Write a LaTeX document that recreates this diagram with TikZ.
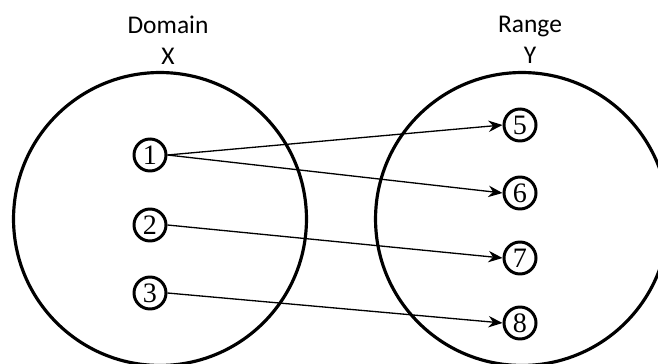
\documentclass[tikz,border=0pt]{standalone}
\usepackage{fontspec}
\newfontfamily\setfont{Carlito}
\newfontfamily\eltfont{Liberation Serif}
\usetikzlibrary{arrows.meta}

\begin{document}
\begin{tikzpicture}[x=0.02cm, y=-0.02cm,
    bigset/.style={draw, line width=1.8pt, circle, minimum size=5.86cm, inner sep=0pt},
    elt/.style={draw, line width=1.7pt, circle, minimum size=0.64cm, inner sep=0pt,
                font=\eltfont\fontsize{16}{16}\selectfont},
    title/.style={font=\setfont\fontsize{14.5}{17.5}\selectfont, align=center},
    map/.style={-{Stealth[length=8pt,width=6.5pt]}, line width=0.75pt}]
    \clip (0, 0) rectangle (658, 364);

    \node[bigset] (dom) at (160, 219) {};
    \node[bigset] (ran) at (522, 219) {};

    \node[title] (domlab) at (168, 40) {Domain\\X};
    \node[title] (ranlab) at (530, 40) {Range\\Y};

    \node[elt] (x1) at (150, 155) {1};
    \node[elt] (x2) at (150, 225) {2};
    \node[elt] (x3) at (150, 293) {3};
    \node[elt] (y5) at (520, 125) {5};
    \node[elt] (y6) at (520, 193) {6};
    \node[elt] (y7) at (520, 258) {7};
    \node[elt] (y8) at (520, 323) {8};

    \draw[map] (x1.east) -- (y5.west);
    \draw[map] (x1.east) -- (y6.west);
    \draw[map] (x2.east) -- (y7.west);
    \draw[map] (x3.east) -- (y8.west);
\end{tikzpicture}
\end{document}
